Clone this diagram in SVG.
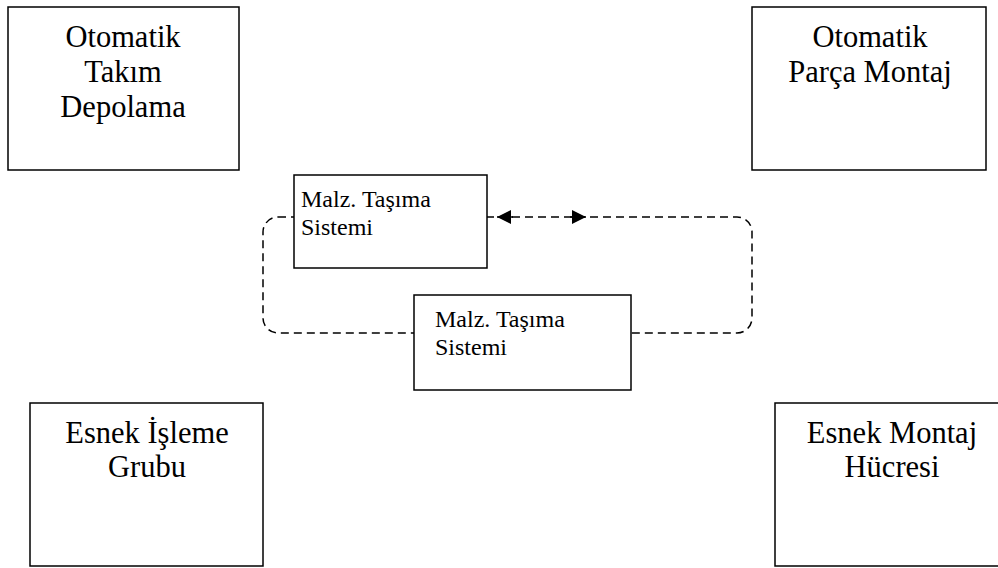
<svg xmlns="http://www.w3.org/2000/svg" width="998" height="568" viewBox="0 0 998 568">
<style>
.box{fill:#fff;stroke:#000;stroke-width:1.5}
.big{font-family:"Liberation Serif","Times New Roman",serif;font-size:30.5px;fill:#000;text-anchor:middle}
.small{font-family:"Liberation Serif","Times New Roman",serif;font-size:24px;fill:#000}
.dash{fill:none;stroke:#000;stroke-width:1.5;stroke-dasharray:8 5}
</style>
<defs>
<marker id="ah" viewBox="0 0 10 10" refX="10" refY="5" markerWidth="15" markerHeight="14" markerUnits="userSpaceOnUse" orient="auto">
<path d="M0,0 L10,5 L0,10 z" fill="#000"/>
</marker>
</defs>
<g id="connectors">
<rect class="dash" x="263" y="217" width="489" height="116" rx="15" ry="15"/>
<line x1="513" y1="217" x2="497" y2="217" stroke="#000" stroke-width="1.5" marker-end="url(#ah)"/>
<line x1="570" y1="217" x2="586" y2="217" stroke="#000" stroke-width="1.5" marker-end="url(#ah)"/>
</g>
<g id="otomatik-takim-depolama">
<rect class="box" x="8" y="7" width="231" height="163"/>
<text class="big" x="123" y="47">Otomatik</text>
<text class="big" x="123" y="82">Takım</text>
<text class="big" x="123" y="117">Depolama</text>
</g>
<g id="otomatik-parca-montaj">
<rect class="box" x="752" y="7" width="234" height="163"/>
<text class="big" x="870" y="47">Otomatik</text>
<text class="big" x="870" y="82">Parça Montaj</text>
</g>
<g id="malz-tasima-1">
<rect class="box" x="294" y="175" width="193" height="93"/>
<text class="small" x="301" y="207">Malz. Taşıma</text>
<text class="small" x="301" y="235">Sistemi</text>
</g>
<g id="malz-tasima-2">
<rect class="box" x="414" y="295" width="217" height="95"/>
<text class="small" x="435" y="327">Malz. Taşıma</text>
<text class="small" x="435" y="355">Sistemi</text>
</g>
<g id="esnek-isleme-grubu">
<rect class="box" x="30" y="403" width="233" height="163"/>
<text class="big" x="147" y="443">Esnek İşleme</text>
<text class="big" x="147" y="477">Grubu</text>
</g>
<g id="esnek-montaj-hucresi">
<path class="box" d="M1010,403 H775 V566 H1010"/>
<text class="big" x="892" y="443">Esnek Montaj</text>
<text class="big" x="892" y="477">Hücresi</text>
</g>
</svg>
